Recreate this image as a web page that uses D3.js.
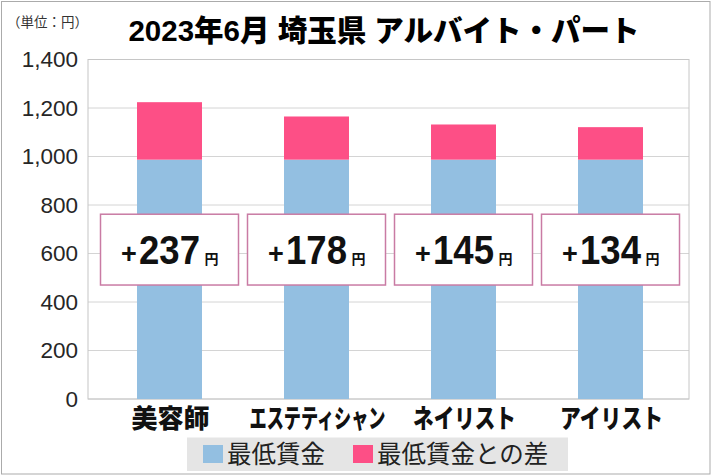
<!DOCTYPE html>
<html>
<head>
<meta charset="utf-8">
<script src="https://cdn.jsdelivr.net/npm/d3@7"></script>
<style>
  body { margin: 0; background: #fff; }
  svg { display: block; }
</style>
</head>
<body>
<div id="chart"></div>
<script>
// data
const categories = ["美容師", "エステティシャン", "ネイリスト", "アイリスト"];
const minimumWage = [987, 987, 987, 987];
const wageGap = [237, 178, 145, 134];
const yTicks = [0, 200, 400, 600, 800, 1000, 1200, 1400];
const seriesNames = ["最低賃金", "最低賃金との差"];
const seriesColors = ["#93bfe1", "#fd4f86"];

const width = 712, height = 476;
const cjk = "'Liberation Sans', 'Noto Sans CJK JP', sans-serif";

const svg = d3.select("#chart")
  .append("svg")
    .attr("width", width)
    .attr("height", height);

// outer frame
svg.append("rect")
  .attr("x", 1.5).attr("y", 1.5)
  .attr("width", 708.5).attr("height", 472.5)
  .attr("fill", "#fff")
  .attr("stroke", "#ababab");

const plot = { left: 88, right: 689, top: 59.5, bottom: 399 };

const y = d3.scaleLinear()
  .domain([0, 1400])
  .range([plot.bottom, plot.top]);

const x = d3.scaleBand()
  .domain(categories)
  .range([96, 684])
  .paddingInner(0.558)
  .paddingOuter(0.279);

// squeeze a text horizontally to a given width around its anchor
function squeeze(sel, cx, cy, target) {
  sel.each(function(d, i) {
    const w = this.getComputedTextLength();
    const s = Math.min(1, target(d, i) / w);
    d3.select(this).attr("transform",
      "translate(" + cx(d, i) + "," + cy + ") scale(" + s + ",1)");
  });
}

// gridlines
svg.append("g")
  .selectAll("line")
  .data(yTicks)
  .enter()
  .append("line")
    .attr("x1", plot.left)
    .attr("x2", plot.right)
    .attr("y1", d => y(d))
    .attr("y2", d => y(d))
    .attr("stroke", "#d4d4d4");

svg.append("rect")
  .attr("x", plot.left).attr("y", plot.top)
  .attr("width", plot.right - plot.left)
  .attr("height", plot.bottom - plot.top)
  .attr("fill", "none")
  .attr("stroke", "#c6c6c6");

// y axis labels
const yAxis = svg.append("g")
  .attr("transform", "translate(" + plot.left + ",0)")
  .call(d3.axisLeft(y).tickValues(yTicks).tickSize(0).tickPadding(10)
    .tickFormat(d3.format(",")));
yAxis.select(".domain").remove();
yAxis.selectAll("text")
  .attr("font-family", "'Liberation Sans', Arial, sans-serif")
  .attr("font-size", 22.5)
  .attr("fill", "#262626");

// stacked bars
const rows = categories.map((c, i) => ({ cat: c, base: minimumWage[i], gap: wageGap[i] }));
const stacked = d3.stack().keys(["base", "gap"])(rows);

svg.append("g")
  .selectAll("g")
  .data(stacked)
  .enter()
  .append("g")
    .attr("fill", (d, i) => seriesColors[i])
  .selectAll("rect")
  .data(d => d)
  .enter()
  .append("rect")
    .attr("x", d => x(d.data.cat))
    .attr("y", d => y(d[1]))
    .attr("width", x.bandwidth())
    .attr("height", d => y(d[0]) - y(d[1]));

// x labels
const labelWidths = [79, 136, 103, 103];
svg.append("g")
  .selectAll("text")
  .data(categories)
  .enter()
  .append("text")
    .attr("text-anchor", "middle")
    .attr("font-family", "'Noto Sans CJK JP', sans-serif")
    .attr("font-weight", 900)
    .attr("font-size", 26)
    .attr("fill", "#111")
    .text(d => d)
    .call(squeeze, d => x(d) + x.bandwidth() / 2 + 1, 428, (d, i) => labelWidths[i]);

// difference call-out boxes
const boxW = 138;
const boxes = svg.append("g")
  .selectAll("g")
  .data(rows)
  .enter()
  .append("g")
    .attr("transform", d => "translate(" + (x(d.cat) + x.bandwidth() / 2) + ",0)");

boxes.append("rect")
  .attr("x", -boxW / 2)
  .attr("y", y(762))
  .attr("width", boxW)
  .attr("height", y(470) - y(762))
  .attr("fill", "#fff")
  .attr("stroke", "#c97ba4")
  .attr("stroke-width", 1.5);

const baseY = 263.5;
boxes.append("text")
  .attr("x", -40.5)
  .attr("y", baseY - 1)
  .attr("text-anchor", "middle")
  .attr("font-family", "'Liberation Sans', Arial, sans-serif")
  .attr("font-weight", "bold")
  .attr("font-size", 27)
  .attr("fill", "#111")
  .text("+");
boxes.append("text")
  .attr("text-anchor", "middle")
  .attr("font-family", "'Liberation Sans', Arial, sans-serif")
  .attr("font-weight", "bold")
  .attr("font-size", 40)
  .attr("fill", "#111")
  .text(d => d.gap)
  .call(squeeze, () => 0, baseY, () => 61);
boxes.append("text")
  .attr("x", 35)
  .attr("y", baseY)
  .attr("font-family", "'Noto Sans CJK JP', sans-serif")
  .attr("font-weight", "bold")
  .attr("font-size", 14)
  .attr("fill", "#111")
  .text("円");

// title and unit
svg.append("text")
  .attr("x", 384)
  .attr("y", 41)
  .attr("text-anchor", "middle")
  .attr("font-family", cjk)
  .attr("font-weight", 900)
  .attr("font-size", 29.5)
  .attr("fill", "#000")
  .text("2023年6月 埼玉県 アルバイト・パート");

svg.append("text")
  .attr("x", 7)
  .attr("y", 27)
  .attr("font-family", "'Noto Sans CJK JP', sans-serif")
  .attr("font-size", 13.5)
  .attr("fill", "#333")
  .text("（単位：円）");

// legend
const legend = svg.append("g");
legend.append("rect")
  .attr("x", 187).attr("y", 437.5)
  .attr("width", 381).attr("height", 33.5)
  .attr("fill", "#e5e5e5");

const legendX = [203, 353];
const items = legend.selectAll("g.item")
  .data(seriesNames)
  .enter()
  .append("g")
    .attr("class", "item")
    .attr("transform", (d, i) => "translate(" + legendX[i] + ",0)");
items.append("rect")
  .attr("x", 0).attr("y", 445)
  .attr("width", 20).attr("height", 18)
  .attr("fill", (d, i) => seriesColors[i]);
items.append("text")
  .attr("x", 24)
  .attr("y", 463)
  .attr("font-family", "'Noto Sans CJK JP', sans-serif")
  .attr("font-size", 24.5)
  .attr("fill", "#222")
  .text(d => d);
</script>
</body>
</html>
